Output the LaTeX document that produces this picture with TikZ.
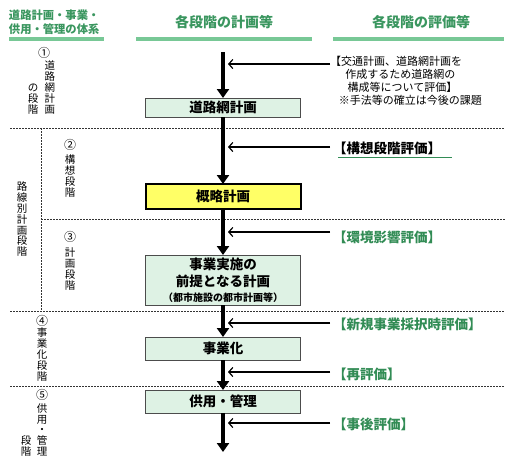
\documentclass[tikz,border=0pt]{standalone}
\usepackage{fontspec}
\newfontfamily\cjk{Noto Sans CJK JP}
\usetikzlibrary{arrows.meta}
\definecolor{hdgreen}{RGB}{58,150,95}
\definecolor{ulgreen}{RGB}{120,200,150}
\definecolor{lblgreen}{RGB}{50,140,85}
\definecolor{boxfill}{RGB}{222,242,228}
\definecolor{boxyellow}{RGB}{255,255,102}
\begin{document}
\begin{tikzpicture}[x=1pt,y=-1pt,
  every node/.style={inner sep=0pt, outer sep=0pt},
  stagebox/.style={draw=black!70, line width=1pt, fill=boxfill, minimum width=155pt,
    font=\cjk\bfseries\fontsize{13.5}{16}\selectfont, align=center, anchor=north},
  mainflow/.style={line width=4pt, -{Triangle[length=9pt,width=12pt]}},
  evalarrow/.style={line width=1.2pt, -{Straight Barb[length=4pt,width=9pt]}},
  divider/.style={line width=1pt, dash pattern=on 1.5pt off 1.5pt, black!80},
  headul/.style={line width=3.5pt, ulgreen},
  colhead/.style={font=\cjk\bfseries\fontsize{14}{16}\selectfont, text=hdgreen},
  evallabel/.style={font=\cjk\bfseries\fontsize{13.5}{16}\selectfont, text=lblgreen, anchor=west},
  vtext/.style={font=\cjk\fontsize{10.5}{10.8}\selectfont, align=center},
  stagenum/.style={font=\cjk\fontsize{12}{14}\selectfont},
]
\useasboundingbox (0,0) rectangle (512,461);

% headers
\node[font=\cjk\bfseries\fontsize{11.3}{14}\selectfont, text=hdgreen, align=left, anchor=west] (hdl) at (9,22) {道路計画・事業・\\供用・管理の体系};
\node[colhead] (hdm) at (224,22) {各段階の計画等};
\node[colhead] (hdr) at (421,22) {各段階の評価等};
\draw[headul] (9,39) -- (104,39);
\draw[headul] (136,39) -- (312,39);
\draw[headul] (333,39) -- (504,39);

% dividers
\draw[divider] (10,128) -- (505,128);
\draw[divider] (41,128) -- (41,311);
\draw[divider] (41,219) -- (505,219);
\draw[divider] (10,311) -- (505,311);
\draw[divider] (10,386) -- (505,386);

% stage labels (left)
\node[stagenum] (n1) at (44,53) {①};
\node[vtext, anchor=south] (s1a) at (50,114) {道\\路\\網\\計\\画};
\node[vtext, anchor=south] (s1b) at (33,114) {の\\段\\階};
\node[vtext, anchor=north] (s0) at (22,182) {路\\線\\別\\計\\画\\段\\階};
\node[stagenum] (n2) at (70,145) {②};
\node[vtext, anchor=north] (s2) at (70,155) {構\\想\\段\\階};
\node[stagenum] (n3) at (70,237) {③};
\node[vtext, anchor=north] (s3) at (70,248) {計\\画\\段\\階};
\node[stagenum] (n4) at (42,321) {④};
\node[vtext, anchor=north] (s4) at (42,328) {事\\業\\化\\段\\階};
\node[stagenum] (n5) at (42,395) {⑤};
\node[vtext, anchor=south] (s5a) at (42,456) {供\\用\\・\\管\\理};
\node[vtext, anchor=south] (s5b) at (26,456) {段\\階};

% stage boxes
\node[stagebox, minimum height=19pt] (b1) at (223,98) {道路網計画};
\node[stagebox, draw=black, line width=2pt, fill=boxyellow, minimum height=25pt] (b2) at (223,184) {概略計画};
\node[stagebox, minimum height=50pt] (b3) at (223,255) {事業実施の\\[1pt]前提となる計画\\[-1pt]{\fontsize{10}{12}\selectfont （都市施設の都市計画等）}};
\node[stagebox, minimum height=23pt] (b4) at (223,337) {事業化};
\node[stagebox, minimum height=23pt] (b5) at (223,390) {供用・管理};

% main flow
\coordinate (top) at (223,52);
\coordinate (bottom) at (223,452);
\draw[mainflow] (top) -- (b1.north);
\draw[mainflow] (b1.south) -- (b2.north);
\draw[mainflow] (b2.south) -- (b3.north);
\draw[mainflow] (b3.south) -- (b4.north);
\draw[mainflow] (b4.south) -- (b5.north);
\draw[mainflow] (b5.south) -- (bottom);

% evaluation arrows
\foreach \i/\y in {1/64,2/147,3/232,4/323,5/372,6/423}{
  \coordinate (e\i) at (330,\y);
  \coordinate (t\i) at (228,\y);
  \draw[evalarrow] (e\i) -- (t\i);
}

% evaluation labels
\node[font=\cjk\fontsize{11}{13}\selectfont, align=left, anchor=north west] (l1) at (330,56)
  {【交通計画、道路網計画を\\\hspace{1.4em}作成するため道路網の\\\hspace{1.6em}構成等について評価】\\\hspace{0.8em}※手法等の確立は今後の課題};
\node[evallabel, text=black] (l2) at (333,148) {【構想段階評価】};
\draw[line width=1pt, lblgreen] (338,157) -- (452,157);
\node[evallabel] (l3) at (333,237) {【環境影響評価】};
\node[evallabel] (l4) at (333,324) {【新規事業採択時評価】};
\node[evallabel] (l5) at (333,374) {【再評価】};
\node[evallabel] (l6) at (333,424) {【事後評価】};
\end{tikzpicture}
\end{document}
